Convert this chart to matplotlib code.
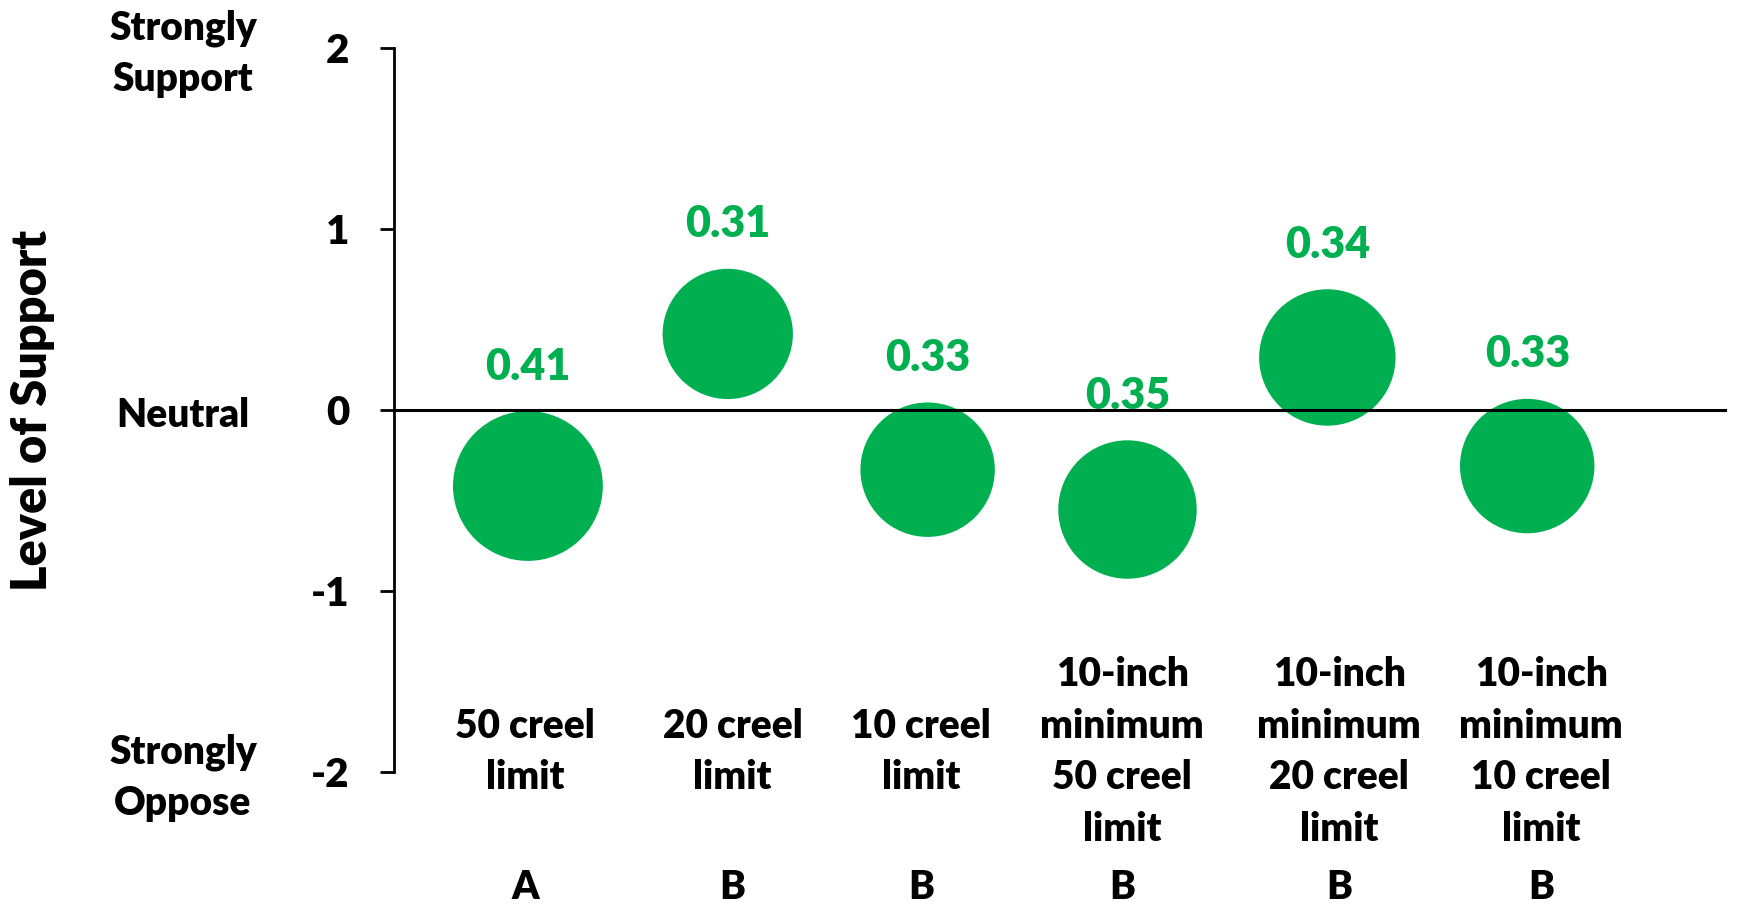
import matplotlib.pyplot as plt
from matplotlib import transforms

plt.rcParams['font.family'] = ['Lato', 'DejaVu Sans']
plt.rcParams['font.weight'] = 'heavy'

# mean level of support per regulation option, and bubble size (SD)
options = ['50 creel\nlimit', '20 creel\nlimit', '10 creel\nlimit',
           '10-inch\nminimum\n50 creel\nlimit', '10-inch\nminimum\n20 creel\nlimit',
           '10-inch\nminimum\n10 creel\nlimit']
groups = ['A', 'B', 'B', 'B', 'B', 'B']
support = [-0.42, 0.42, -0.33, -0.55, 0.29, -0.31]
spread = [0.41, 0.31, 0.33, 0.35, 0.34, 0.33]
scale_labels = {2: 'Strongly\nSupport', 0: 'Neutral', -2: 'Strongly\nOppose'}

GREEN = '#00B050'
DPI = 100
BUBBLE_D = 234  # bubble diameter in pixels for size 1.0
W = 'heavy'

fig = plt.figure(figsize=(17.38, 9.05), dpi=DPI)
ax = fig.add_axes([0.2267, 0.147, 0.7670, 0.800])

xs = list(range(1, len(options) + 1))
size_pts = [(BUBBLE_D * 72 / DPI) ** 2 * s for s in spread]
ax.scatter(xs, support, s=size_pts, color=GREEN, edgecolors='none', zorder=2)
ax.axhline(0, color='black', lw=2.2, zorder=3)

# value labels above each bubble
for x, y, s in zip(xs, support, spread):
    r_pt = BUBBLE_D * s ** 0.5 / 2 * 72 / DPI
    ax.annotate(f'{s:.2f}', (x, y), xytext=(0, r_pt + 32), textcoords='offset points',
                ha='center', va='center', color=GREEN, fontsize=31, fontweight=W)

ax.set_xlim(0.33, 7.0)
ax.set_ylim(-2, 2)
ax.set_yticks([2, 1, 0, -1, -2])
ax.set_yticklabels(['2', '1', '0', '-1', '-2'], fontsize=29, fontweight=W)
ax.tick_params(axis='y', length=10, width=2, pad=22)
ax.set_xticks([])
for side in ['top', 'right', 'bottom']:
    ax.spines[side].set_visible(False)
ax.spines['left'].set_linewidth(2)

# verbal anchors for the scale
nudge = transforms.ScaledTranslation(0, -6 / DPI, fig.dpi_scale_trans)
lab_trans = transforms.blended_transform_factory(fig.transFigure, ax.transData) + nudge
for val, txt in scale_labels.items():
    fig.text(183 / 1738, val, txt, transform=lab_trans, ha='center', va='center',
             fontsize=28, fontweight=W, linespacing=1.48)

# category and group labels below the plot
label_x = [0.987, 2.024, 2.966, 3.973, 5.06, 6.07]
cat_trans = transforms.blended_transform_factory(ax.transData, fig.transFigure)
for lx, name, grp in zip(label_x, options, groups):
    ax.text(lx, 1 - 752 / 905, name, transform=cat_trans, ha='center', va='center',
            fontsize=28, fontweight=W, linespacing=1.48)
    ax.text(lx, 1 - 887 / 905, grp, transform=cat_trans, ha='center', va='center',
            fontsize=28, fontweight=W)

fig.text(33 / 1738, 1 - 410 / 905, 'Level of Support', rotation=90, ha='center',
         va='center', fontsize=35, fontweight=W)

fig.savefig('out.png', dpi=DPI)
